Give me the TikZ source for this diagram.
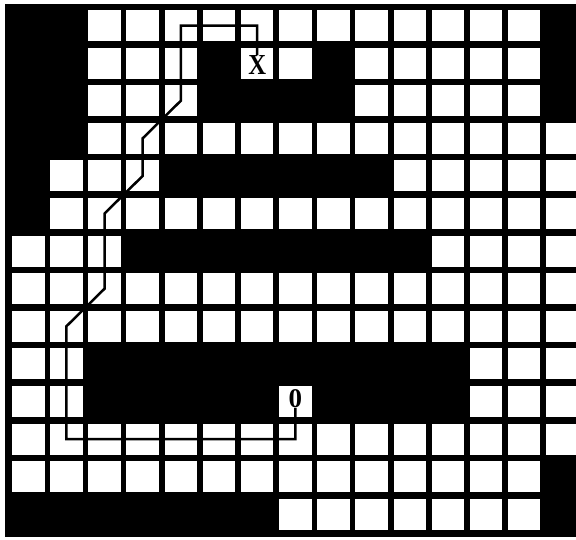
\documentclass[tikz,border=0pt]{standalone}
\usepackage{fontspec}
\setmainfont{Liberation Serif}
\begin{document}
\begin{tikzpicture}[x=1pt,y=-1pt]
\tikzset{
  sq/.style={fill=white,draw=none,inner sep=0pt,outer sep=0pt,minimum width=32.5pt,minimum height=31pt},
  route/.style={draw=black,line width=2.5pt,line join=miter},
  letternode/.style={inner sep=0pt}
}
\useasboundingbox (0,0) rectangle (576,539);
\fill[black] (5,4) rectangle (580,537);
\foreach \r/\cols in {
  1/{3,4,5,6,7,8,9,10,11,12,13,14},
  2/{3,4,5,7,8,10,11,12,13,14},
  3/{3,4,5,10,11,12,13,14},
  4/{3,4,5,6,7,8,9,10,11,12,13,14,15},
  5/{2,3,4,11,12,13,14,15},
  6/{2,3,4,5,6,7,8,9,10,11,12,13,14,15},
  7/{1,2,3,12,13,14,15},
  8/{1,2,3,4,5,6,7,8,9,10,11,12,13,14,15},
  9/{1,2,3,4,5,6,7,8,9,10,11,12,13,14,15},
  10/{1,2,13,14,15},
  11/{1,2,8,13,14,15},
  12/{1,2,3,4,5,6,7,8,9,10,11,12,13,14,15},
  13/{1,2,3,4,5,6,7,8,9,10,11,12,13,14},
  14/{8,9,10,11,12,13,14}}{
  \foreach \c in \cols {
    \node[sq] (q\r-\c) at ({28.25+(\c-1)*38.15},{25.5+(\r-1)*37.6}) {};
  }
}
\node[letternode,xscale=0.85] (X) at ([yshift=-2pt]q2-7.center) {\fontsize{29}{29}\selectfont\textbf{X}};
\node[letternode] (O) at ([yshift=3pt]q11-8.center) {\fontsize{27}{27}\selectfont\textbf{0}};
\draw[route] (X.north) -- (q1-7.center) -- (q1-5.center) -- (q3-5.center)
  -- (q4-4.center) -- (q5-4.center) -- (q6-3.center) -- (q8-3.center)
  -- (q9-2.center) -- (q12-2.center) -- (q12-8.center) -- (O.south);
\end{tikzpicture}
\end{document}
